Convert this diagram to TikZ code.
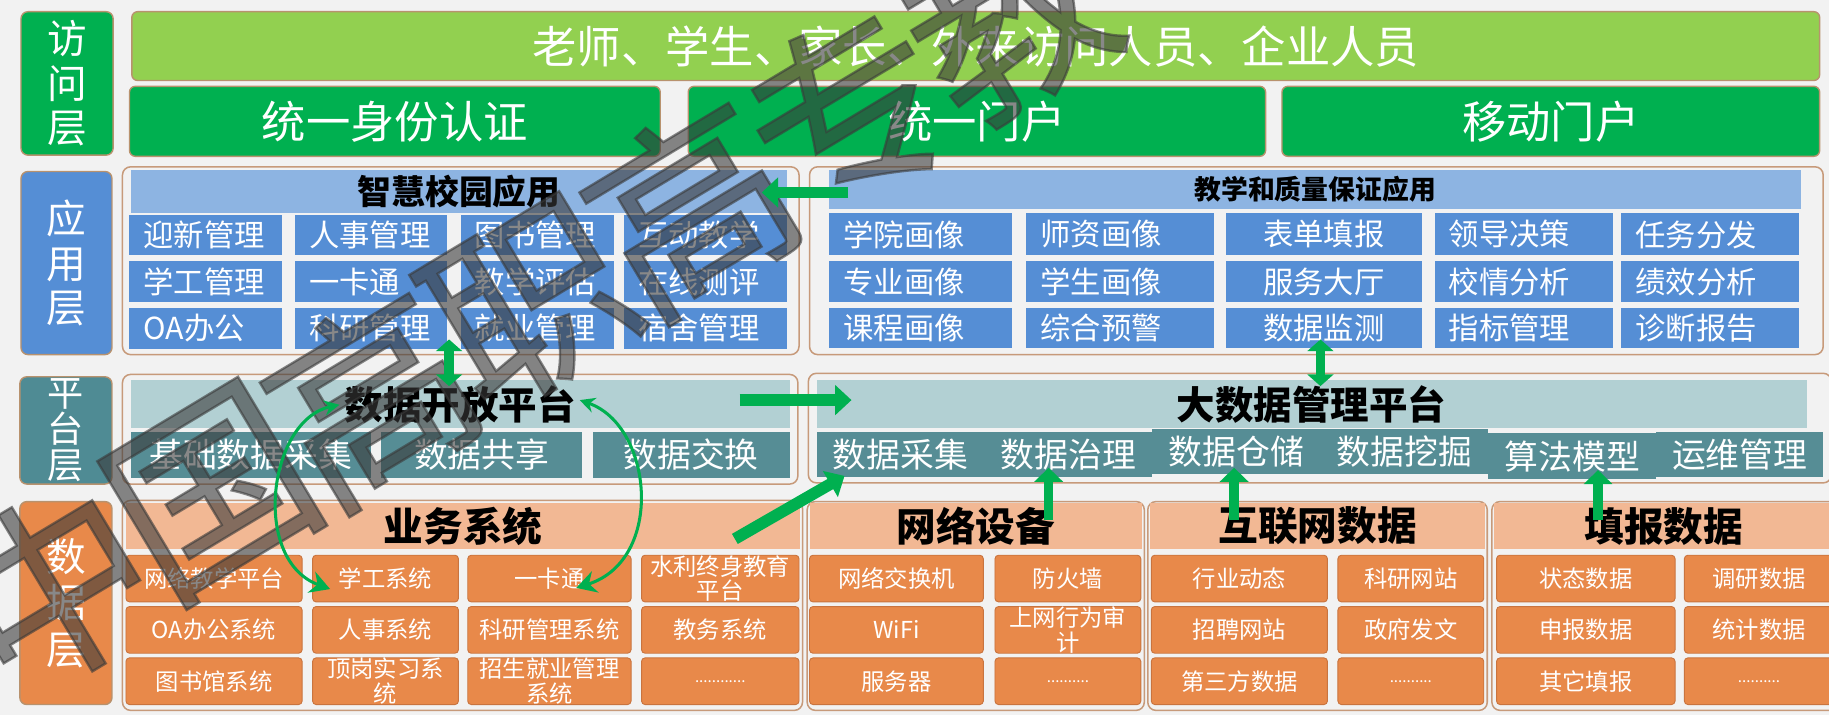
\documentclass[tikz,border=0pt]{standalone}
\usepackage{fontspec}
\setmainfont{Noto Sans CJK SC}
\newfontfamily\wmfont[FakeBold=1.2]{Noto Sans CJK SC}
\usetikzlibrary{arrows.meta}
\definecolor{cbg}{HTML}{F2F2F2}
\definecolor{cbrd}{HTML}{B8926E}
\definecolor{cfrm}{HTML}{C79A7A}
\definecolor{clgreen}{HTML}{92D050}
\definecolor{cdgreen}{HTML}{00B050}
\definecolor{clayblue}{HTML}{558ED5}
\definecolor{chblue}{HTML}{8DB4E2}
\definecolor{ccblue}{HTML}{558ED5}
\definecolor{clayteal}{HTML}{4F8B94}
\definecolor{chteal}{HTML}{B2D0D3}
\definecolor{ccteal}{HTML}{568D95}
\definecolor{clayor}{HTML}{E8894A}
\definecolor{chor}{HTML}{F2B894}
\definecolor{ccor}{HTML}{E8894A}
\definecolor{ccorb}{HTML}{C9743F}
\definecolor{carrg}{HTML}{00B050}
\definecolor{cwm}{HTML}{3A3A3A}
\tikzset{
  laybox/.style={draw=cbrd, line width=1.2pt, rounded corners=6pt, text=white, align=center, inner sep=0pt, font=\fontsize{34}{38}\selectfont},
  usrbar/.style={fill=clgreen, draw=cbrd, line width=1.2pt, rounded corners=5pt, text=white, inner sep=0pt, font=\fontsize{38}{40}\selectfont},
  gbox/.style={fill=cdgreen, draw=cbrd, line width=1.2pt, rounded corners=5pt, text=white, inner sep=0pt, font=\fontsize{38}{40}\selectfont},
  frm/.style={draw=cfrm, line width=1.3pt, rounded corners=7pt, fill=cbg, inner sep=0pt},
  hdr/.style={inner sep=0pt, text=black, font=\bfseries\fontsize{33}{36}\selectfont},
  bcell/.style={fill=ccblue, inner sep=0pt, text=white, font=\fontsize{26}{28}\selectfont},
  tcell/.style={fill=ccteal, inner sep=0pt, text=white, font=\fontsize{29}{31}\selectfont},
  ocell/.style={fill=ccor, draw=ccorb, line width=0.8pt, rounded corners=3pt, text=white, align=center, inner sep=0pt, font=\fontsize{20}{21}\selectfont},
  dots/.style={font=\fontsize{13}{14}\selectfont},
  wm/.style={text=cwm, text opacity=0.6, inner sep=0pt, font=\wmfont\fontsize{170}{170}\selectfont},
  garrow/.style={draw=carrg, line width=10pt, -{Triangle[length=14pt,width=25pt]}},
  gdarrow/.style={draw=carrg, line width=8pt, {Triangle[length=10pt,width=22pt]}-{Triangle[length=10pt,width=22pt]}},
  guarrow/.style={draw=carrg, line width=8pt, -{Triangle[length=12pt,width=24pt]}},
  gcurve/.style={draw=carrg, line width=2.6pt, {Stealth[length=13pt,width=13pt]}-{Stealth[length=17pt,width=19pt]}}
}
\newcommand\mkbox[7]{%
  \pgfmathsetmacro\bxw{(#5)-(#3)}%
  \pgfmathsetmacro\bxh{(#6)-(#4)}%
  \pgfmathsetmacro\bxcx{((#3)+(#5))/2}%
  \pgfmathsetmacro\bxcy{((#4)+(#6))/2}%
  \node[#1, minimum width=\bxw pt, minimum height=\bxh pt] (#2) at (\bxcx,\bxcy) {#7};%
}
\newcommand\mkboxl[7]{%
  \pgfmathsetmacro\bxtw{(#5)-(#3)-24}%
  \mkbox{#1}{#2}{#3}{#4}{#5}{#6}{\makebox[\bxtw pt][l]{#7}}%
}
\begin{document}
\begin{tikzpicture}[x=1pt,y=-1pt]
\fill[cbg] (0,0) rectangle (1568,613);
\useasboundingbox (0,0) rectangle (1568,613);
% ---------- layer labels
\mkbox{laybox, fill=cdgreen}{L1}{18}{10}{97}{133}{访\\问\\层}
\mkbox{laybox, fill=clayblue}{L2}{18}{147}{96}{304}{应\\用\\层}
\mkbox{laybox, fill=clayteal, font=\fontsize{31}{31}\selectfont}{L3}{17}{323}{96}{415}{平\\台\\层}
\mkbox{laybox, fill=clayor, font=\fontsize{34}{40}\selectfont}{L4}{17}{430}{96}{604}{数\\据\\层}
% ---------- access layer
\mkbox{usrbar}{users}{113}{10}{1560}{69}{老师、学生、家长、外来访问人员、企业人员}
\mkbox{gbox}{auth}{111}{74}{566}{134}{统一身份认证}
\mkbox{gbox}{portal}{590}{74}{1085}{134}{统一门户}
\mkbox{gbox}{mobile}{1099}{74}{1560}{134}{移动门户}
% ---------- application layer: smart campus
\mkbox{frm}{fA}{105}{143}{685}{304}{}
\mkbox{hdr, fill=chblue, font=\bfseries\fontsize{29}{31}\selectfont}{hA}{112}{146}{675}{183}{智慧校园应用}
\mkboxl{bcell}{a11}{111}{184}{242}{219}{迎新管理}
\mkboxl{bcell}{a12}{253}{184}{383}{219}{人事管理}
\mkboxl{bcell}{a13}{395}{184}{526}{219}{图书管理}
\mkboxl{bcell}{a14}{535}{184}{675}{219}{互动教学}
\mkboxl{bcell}{a21}{111}{224}{242}{259}{学工管理}
\mkboxl{bcell}{a22}{253}{224}{383}{259}{一卡通}
\mkboxl{bcell}{a23}{395}{224}{526}{259}{教学评估}
\mkboxl{bcell}{a24}{535}{224}{675}{259}{在线测评}
\mkboxl{bcell}{a31}{111}{264}{242}{299}{OA办公}
\mkboxl{bcell}{a32}{253}{264}{383}{299}{科研管理}
\mkboxl{bcell}{a33}{395}{264}{526}{299}{就业管理}
\mkboxl{bcell}{a34}{535}{264}{675}{299}{宿舍管理}
% ---------- application layer: teaching quality
\mkbox{frm}{fB}{694}{143}{1563}{304}{}
\mkbox{hdr, fill=chblue, font=\bfseries\fontsize{23}{25}\selectfont}{hB}{711}{146}{1544}{179}{教学和质量保证应用}
\mkboxl{bcell}{b11}{711}{183}{868}{219}{学院画像}
\mkboxl{bcell}{b12}{880}{183}{1041}{219}{师资画像}
\mkbox{bcell}{b13}{1051}{183}{1219}{219}{表单填报}
\mkboxl{bcell}{b14}{1230}{183}{1383}{219}{领导决策}
\mkboxl{bcell}{b15}{1390}{183}{1542}{219}{任务分发}
\mkboxl{bcell}{b21}{711}{224}{868}{259}{专业画像}
\mkboxl{bcell}{b22}{880}{224}{1041}{259}{学生画像}
\mkbox{bcell}{b23}{1051}{224}{1219}{259}{服务大厅}
\mkboxl{bcell}{b24}{1230}{224}{1383}{259}{校情分析}
\mkboxl{bcell}{b25}{1390}{224}{1542}{259}{绩效分析}
\mkboxl{bcell}{b31}{711}{264}{868}{298}{课程画像}
\mkboxl{bcell}{b32}{880}{264}{1041}{298}{综合预警}
\mkbox{bcell}{b33}{1051}{264}{1219}{298}{数据监测}
\mkboxl{bcell}{b34}{1230}{264}{1383}{298}{指标管理}
\mkboxl{bcell}{b35}{1390}{264}{1542}{298}{诊断报告}
% ---------- platform layer
\mkbox{frm}{fC}{105}{321}{684}{415}{}
\mkbox{hdr, fill=chteal}{hC}{112}{326}{677}{367}{数据开放平台}
\mkbox{tcell}{c1}{112}{370}{318}{410}{基础数据采集}
\mkbox{tcell}{c2}{327}{370}{499}{410}{数据共享}
\mkbox{tcell}{c3}{508}{370}{677}{410}{数据交换}
\mkbox{frm}{fD}{693}{320}{1570}{414}{}
\mkbox{hdr, fill=chteal}{hD}{700}{326}{1549}{367}{大数据管理平台}
\mkbox{tcell}{d1}{700}{370}{844}{409}{数据采集}
\mkbox{tcell}{d2}{844}{370}{988}{409}{数据治理}
\mkbox{tcell}{d3}{988}{368}{1132}{406}{数据仓储}
\mkbox{tcell}{d4}{1132}{368}{1276}{406}{数据挖掘}
\mkbox{tcell}{d5}{1276}{371}{1420}{411}{算法模型}
\mkbox{tcell}{d6}{1420}{370}{1563}{409}{运维管理}
% ---------- data layer: business systems
\mkbox{frm}{fE}{105}{429}{688}{609}{}
\mkbox{hdr, fill=chor, font=\bfseries\fontsize{34}{36}\selectfont}{hE}{108}{431}{686}{471}{业务系统}
\mkbox{ocell}{e11}{108}{476}{259}{516}{网络教学平台}
\mkbox{ocell}{e12}{268}{476}{393}{516}{学工系统}
\mkbox{ocell}{e13}{401}{476}{541}{516}{一卡通}
\mkbox{ocell}{e14}{550}{476}{685}{516}{水利终身教育\\平台}
\mkbox{ocell}{e21}{108}{520}{259}{560}{OA办公系统}
\mkbox{ocell}{e22}{268}{520}{393}{560}{人事系统}
\mkbox{ocell}{e23}{401}{520}{541}{560}{科研管理系统}
\mkbox{ocell}{e24}{550}{520}{685}{560}{教务系统}
\mkbox{ocell}{e31}{108}{564}{259}{604}{图书馆系统}
\mkbox{ocell}{e32}{268}{564}{393}{604}{顶岗实习系\\统}
\mkbox{ocell}{e33}{401}{564}{541}{604}{招生就业管理\\系统}
\mkbox{ocell, dots}{e34}{550}{564}{685}{604}{............}
% ---------- network devices
\mkbox{frm}{fF}{692}{430}{981}{609}{}
\mkbox{hdr, fill=chor, font=\bfseries\fontsize{34}{36}\selectfont}{hF}{694}{431}{979}{471}{网络设备}
\mkbox{ocell}{f11}{694}{476}{843}{516}{网络交换机}
\mkbox{ocell}{f12}{853}{476}{978}{516}{防火墙}
\mkbox{ocell}{f21}{694}{520}{843}{560}{WiFi}
\mkbox{ocell}{f22}{853}{520}{978}{560}{上网行为审\\计}
\mkbox{ocell}{f31}{694}{564}{843}{604}{服务器}
\mkbox{ocell, dots}{f32}{853}{564}{978}{604}{..........}
% ---------- internet data
\mkbox{frm}{fG}{984}{430}{1275}{609}{}
\mkbox{hdr, fill=chor, font=\bfseries\fontsize{34}{36}\selectfont}{hG}{986}{431}{1273}{471}{互联网数据}
\mkbox{ocell}{g11}{987}{476}{1138}{516}{行业动态}
\mkbox{ocell}{g12}{1147}{476}{1272}{516}{科研网站}
\mkbox{ocell}{g21}{987}{520}{1138}{560}{招聘网站}
\mkbox{ocell}{g22}{1147}{520}{1272}{560}{政府发文}
\mkbox{ocell}{g31}{987}{564}{1138}{604}{第三方数据}
\mkbox{ocell, dots}{g32}{1147}{564}{1272}{604}{..........}
% ---------- reported data
\mkbox{frm}{fH}{1279}{430}{1580}{609}{}
\mkbox{hdr, fill=chor, font=\bfseries\fontsize{34}{36}\selectfont}{hH}{1281}{431}{1572}{471}{填报数据}
\mkbox{ocell}{h11}{1283}{476}{1436}{516}{状态数据}
\mkbox{ocell}{h12}{1444}{476}{1572}{516}{调研数据}
\mkbox{ocell}{h21}{1283}{520}{1436}{560}{申报数据}
\mkbox{ocell}{h22}{1444}{520}{1572}{560}{统计数据}
\mkbox{ocell}{h31}{1283}{564}{1436}{604}{其它填报}
\mkbox{ocell, dots}{h32}{1444}{564}{1572}{604}{..........}
% ---------- watermark
\node[wm, rotate=31] (w1) at (45,505) {中};
\node[wm, rotate=31] (w2) at (182,423) {国};
\node[wm, rotate=31] (w3) at (318,341) {高};
\node[wm, rotate=31] (w4) at (455,260) {职};
\node[wm, rotate=31] (w5) at (592,178) {高};
\node[wm, rotate=31] (w6) at (728,96) {专};
\node[wm, rotate=31] (w7) at (865,14) {教};
% ---------- arrows
\coordinate (q1s) at (727,165);
\coordinate (q1e) at (653,165);
\draw[garrow] (q1s) -- (q1e);
\coordinate (q2s) at (634,343);
\coordinate (q2e) at (730,343);
\draw[garrow] (q2s) -- (q2e);
\coordinate (q3s) at (630,462);
\coordinate (q3e) at (724,408);
\draw[garrow] (q3s) -- (q3e);
\coordinate (v1t) at (385,291);
\coordinate (v1b) at (385,331);
\draw[gdarrow] (v1t) -- (v1b);
\coordinate (v2t) at (1132,291);
\coordinate (v2b) at (1132,331);
\draw[gdarrow] (v2t) -- (v2b);
\coordinate (u1s) at (899,446);
\coordinate (u1e) at (899,401);
\draw[guarrow] (u1s) -- (u1e);
\coordinate (u2s) at (1058,446);
\coordinate (u2e) at (1058,401);
\draw[guarrow] (u2s) -- (u2e);
\coordinate (u3s) at (1370,446);
\coordinate (u3e) at (1370,403);
\draw[guarrow] (u3s) -- (u3e);
\coordinate (k1t) at (291,347);
\coordinate (k1b) at (283,505);
\draw[gcurve] (k1t) .. controls (230,360) and (215,480) .. (k1b);
\coordinate (k2t) at (497,343);
\coordinate (k2b) at (494,504);
\draw[gcurve] (k2t) .. controls (560,365) and (570,480) .. (k2b);
\end{tikzpicture}
\end{document}
